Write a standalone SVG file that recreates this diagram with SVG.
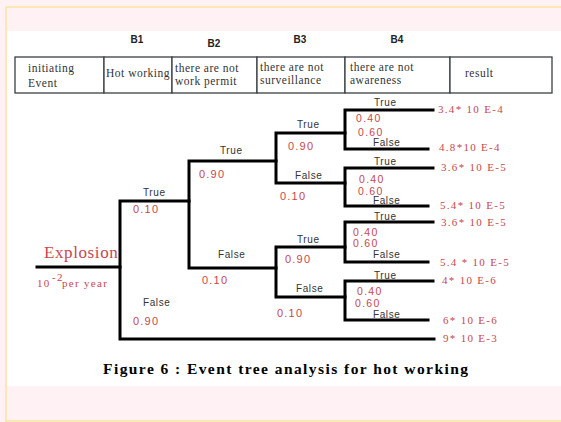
<svg xmlns="http://www.w3.org/2000/svg" width="561" height="422" viewBox="0 0 561 422">
  <style>
    .cell { fill: #ffffff; stroke: #3a3f44; stroke-width: 1.3; }
    .cellText { font-family: "Liberation Serif", serif; font-size: 11.5px; letter-spacing: 0.5px; fill: #333; }
    .hdr { font-family: "Liberation Sans", sans-serif; font-size: 10px; font-weight: bold; fill: #222; }
    .branch { fill: none; stroke: #000; stroke-width: 3; stroke-linecap: square; }
    .lbl { font-family: "Liberation Sans", sans-serif; font-size: 10px; letter-spacing: 0.6px; fill: #333; }
    .prob { font-family: "Liberation Sans", sans-serif; font-size: 11px; letter-spacing: 1.2px; fill: #c6474f; }
    .prob4 { font-family: "Liberation Sans", sans-serif; font-size: 10.5px; letter-spacing: 1.3px; fill: #c6474f; }
    .res { font-family: "Liberation Serif", serif; font-size: 11px; letter-spacing: 1.3px; fill: #c6474f; }
    .caption { font-family: "Liberation Serif", serif; font-size: 15.5px; font-weight: bold; fill: #000; }
  </style>

  <!-- page background and frame -->
  <rect x="0" y="0" width="561" height="422" fill="#fff1f4"/>
  <rect x="7" y="31" width="554" height="355" fill="#ffffff"/>
  <line x1="6" y1="7" x2="561" y2="7" stroke="#fde3a0" stroke-width="1.5"/>
  <line x1="6" y1="7" x2="6" y2="422" stroke="#fde3a0" stroke-width="1.5"/>
  <line x1="6" y1="421" x2="561" y2="421" stroke="#fde3a0" stroke-width="1.5"/>

  <!-- column headings -->
  <g id="headings">
    <text class="hdr" x="137" y="43" text-anchor="middle">B1</text>
    <text class="hdr" x="214" y="47" text-anchor="middle">B2</text>
    <text class="hdr" x="300" y="43" text-anchor="middle">B3</text>
    <text class="hdr" x="397" y="43" text-anchor="middle">B4</text>
  </g>

  <!-- header table -->
  <g id="table">
    <rect class="cell" x="15" y="57" width="89" height="36"/>
    <rect class="cell" x="104" y="57" width="68" height="36"/>
    <rect class="cell" x="172" y="57" width="85" height="36"/>
    <rect class="cell" x="257" y="57" width="88" height="36"/>
    <rect class="cell" x="345" y="57" width="105" height="36"/>
    <rect class="cell" x="450" y="57" width="102" height="36"/>
    <text class="cellText" x="28" y="72">initiating</text>
    <text class="cellText" x="28" y="87">Event</text>
    <text class="cellText" x="106" y="77" font-size="10.5" letter-spacing="0.2">Hot working</text>
    <text class="cellText" x="175" y="72">there are not</text>
    <text class="cellText" x="175" y="85">work permit</text>
    <text class="cellText" x="260" y="71">there are not</text>
    <text class="cellText" x="260" y="84">surveillance</text>
    <text class="cellText" x="350" y="71">there are not</text>
    <text class="cellText" x="350" y="84">awareness</text>
    <text class="cellText" x="465" y="77">result</text>
  </g>

  <!-- branch lines of the event tree -->
  <g id="connectors">
    <path class="branch" d="M37 267 H120"/>
    <path class="branch" d="M189 201 H120 V339 H434"/>
    <path class="branch" d="M276 161 H189 V268 H276"/>
    <path class="branch" d="M345 133 H276 V183 H345"/>
    <path class="branch" d="M345 247 H276 V297 H345"/>
    <path class="branch" d="M433 110 H345 V149 H428"/>
    <path class="branch" d="M433 168 H345 V206 H428"/>
    <path class="branch" d="M433 222 H345 V262 H428"/>
    <path class="branch" d="M433 281 H345 V320 H428"/>
  </g>

  <g id="initiating-event">
    <text x="44" y="258" font-family="Liberation Serif, serif" font-size="17" letter-spacing="0.6" fill="#c6474f">Explosion</text>
    <text class="res" x="37" y="287" font-size="11" letter-spacing="0.5">10</text>
    <text class="res" x="52" y="281" font-size="8" letter-spacing="0">-2</text>
    <text class="res" x="62" y="287" font-size="12" letter-spacing="0.4">per year</text>
  </g>

  <g id="b1">
    <text class="lbl" x="143" y="196">True</text>
    <text class="prob" x="133" y="213">0.10</text>
    <text class="lbl" x="143" y="306">False</text>
    <text class="prob" x="133" y="325">0.90</text>
  </g>

  <g id="b2">
    <text class="lbl" x="220" y="154">True</text>
    <text class="prob" x="199" y="178">0.90</text>
    <text class="lbl" x="218" y="258">False</text>
    <text class="prob" x="202" y="284">0.10</text>
  </g>

  <g id="b3-upper">
    <text class="lbl" x="297" y="128">True</text>
    <text class="prob" x="288" y="150">0.90</text>
    <text class="lbl" x="295" y="179">False</text>
    <text class="prob" x="280" y="200">0.10</text>
  </g>

  <g id="b3-lower">
    <text class="lbl" x="297" y="243">True</text>
    <text class="prob" x="285" y="263">0.90</text>
    <text class="lbl" x="296" y="292">False</text>
    <text class="prob" x="277" y="317">0.10</text>
  </g>

  <g id="b4-1">
    <text class="lbl" x="374" y="106">True</text>
    <text class="prob4" x="356" y="122">0.40</text>
    <text class="prob4" x="358" y="136">0.60</text>
    <text class="lbl" x="373" y="146">False</text>
    <text class="res" x="438" y="113">3.4* 10 E-4</text>
    <text class="res" x="439" y="151">4.8*10 E-4</text>
  </g>

  <g id="b4-2">
    <text class="lbl" x="374" y="165">True</text>
    <text class="prob4" x="359" y="183">0.40</text>
    <text class="prob4" x="358" y="195">0.60</text>
    <text class="lbl" x="373" y="204">False</text>
    <text class="res" x="441" y="171">3.6* 10 E-5</text>
    <text class="res" x="440" y="209">5.4* 10 E-5</text>
  </g>

  <g id="b4-3">
    <text class="lbl" x="374" y="220">True</text>
    <text class="prob4" x="353" y="236">0.40</text>
    <text class="prob4" x="353" y="247">0.60</text>
    <text class="lbl" x="373" y="258">False</text>
    <text class="res" x="441" y="226">3.6* 10 E-5</text>
    <text class="res" x="440" y="266">5.4 * 10 E-5</text>
  </g>

  <g id="b4-4">
    <text class="lbl" x="374" y="279">True</text>
    <text class="prob4" x="357" y="295">0.40</text>
    <text class="prob4" x="355" y="306.5">0.60</text>
    <text class="lbl" x="373" y="318">False</text>
    <text class="res" x="442" y="284">4* 10 E-6</text>
    <text class="res" x="443" y="324">6* 10 E-6</text>
  </g>

  <g id="outcome-false">
    <text class="res" x="443" y="342">9* 10 E-3</text>
  </g>

  <text class="caption" x="103" y="374" textLength="365" lengthAdjust="spacing">Figure 6 : Event tree analysis for hot working</text>
</svg>
